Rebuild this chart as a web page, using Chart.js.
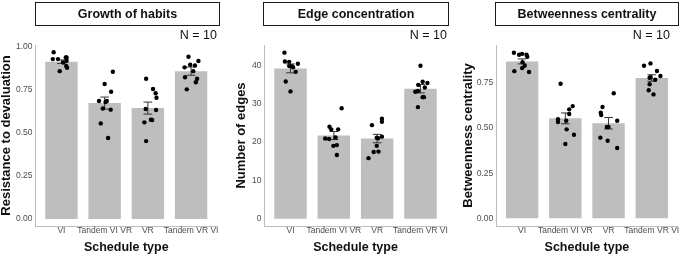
<!DOCTYPE html>
<html>
<head>
<meta charset="utf-8">
<script src="https://cdn.jsdelivr.net/npm/chart.js@4.4.1/dist/chart.umd.min.js"></script>
<style>
  html, body { margin: 0; padding: 0; background: #fff; }
  body { width: 682px; height: 257px; position: relative; overflow: hidden; font-family: "Liberation Sans", Arial, sans-serif; }
  .panel { position: absolute; top: 0; height: 257px; }
  .strip { position: absolute; top: 2px; height: 24px; box-sizing: border-box; border: 1px solid #1a1a1a;
           text-align: center; line-height: 22px; font-weight: bold; font-size: 12.5px; color: #111; }
  .n-label { position: absolute; top: 27px; font-size: 12.5px; color: #111; text-align: right; line-height: 16px; }
</style>
</head>
<body>

<script>
// Data

var schedules = ['VI', 'Tandem VI VR', 'VR', 'Tandem VR VI'];

// Growth of habits: resistance to devaluation
var habitMeans = [0.915, 0.674, 0.645, 0.860];
var habitSem = [0.010, 0.035, 0.035, 0.024];
var habitPoints = [
  [0.97, 0.93, 0.94, 0.92, 0.93, 0.91, 0.94, 0.89, 0.88, 0.86],
  [0.856, 0.785, 0.74, 0.686, 0.686, 0.643, 0.636, 0.556, 0.471, 0.68],
  [0.816, 0.756, 0.731, 0.705, 0.64, 0.634, 0.577, 0.576, 0.562, 0.453],
  [0.944, 0.919, 0.897, 0.893, 0.882, 0.86, 0.824, 0.816, 0.795, 0.754]
];
var habitJitter = [
  [-0.18, -0.20, 0.10, 0.12, -0.08, 0.04, 0.12, 0.11, 0.13, -0.04],
  [0.19, 0.00, 0.15, -0.13, 0.05, -0.04, 0.14, -0.09, 0.08, 0.02],
  [-0.04, 0.12, 0.18, 0.20, -0.05, 0.19, 0.07, 0.10, -0.08, -0.04],
  [-0.06, 0.17, -0.02, 0.09, -0.15, 0.05, -0.14, 0.14, 0.11, -0.10]
];

// Edge concentration: number of edges
var edgeMeans = [39.2, 21.7, 20.9, 33.9];
var edgeSem = [1.15, 1.05, 1.10, 1.10];
var edgePoints = [
  [43.3, 41.0, 40.9, 40.4, 39.8, 39.8, 38.3, 35.8, 33.2, 39.5],
  [28.8, 24.0, 23.3, 23.3, 20.9, 20.8, 21.2, 19.0, 19.2, 16.6],
  [26.1, 25.3, 24.4, 21.1, 21.0, 21.4, 19.0, 17.4, 15.8, 17.5],
  [39.9, 35.7, 35.4, 34.9, 34.2, 33.3, 31.7, 31.7, 29.1, 33.1]
];
var edgeJitter = [
  [-0.14, -0.13, -0.03, 0.17, -0.03, 0.03, 0.12, -0.11, 0.00, 0.06],
  [0.18, -0.10, -0.06, 0.10, -0.20, -0.11, 0.04, -0.01, 0.07, 0.07],
  [0.11, 0.11, -0.12, -0.01, 0.02, 0.11, -0.01, -0.08, -0.20, 0.03],
  [0.00, 0.05, 0.16, -0.05, 0.10, -0.06, 0.08, 0.05, -0.06, -0.12]
];

// Betweenness centrality
var betweenMeans = [0.870, 0.554, 0.527, 0.778];
var betweenSem = [0.014, 0.030, 0.032, 0.018];
var betweenPoints = [
  [0.918, 0.907, 0.912, 0.907, 0.896, 0.866, 0.846, 0.833, 0.816, 0.811],
  [0.746, 0.622, 0.604, 0.578, 0.549, 0.534, 0.541, 0.493, 0.463, 0.412],
  [0.693, 0.617, 0.585, 0.573, 0.541, 0.506, 0.506, 0.447, 0.430, 0.390],
  [0.846, 0.859, 0.817, 0.789, 0.779, 0.782, 0.743, 0.710, 0.687, 0.768]
];
var betweenJitter = [
  [-0.19, -0.07, 0.00, 0.10, 0.12, 0.01, 0.06, 0.00, -0.18, 0.16],
  [-0.11, 0.17, 0.09, 0.09, -0.17, -0.17, 0.02, 0.03, 0.20, 0.00],
  [0.12, -0.14, -0.18, -0.17, 0.20, -0.04, 0.00, -0.19, -0.02, 0.20],
  [-0.18, -0.03, 0.12, 0.20, -0.05, -0.03, -0.05, -0.07, 0.04, 0.08]
];

var FONT = '"Liberation Sans", Arial, sans-serif';
var BAR_COLOR = '#bebebe';
var AXIS_COLOR = '#bdbdbd';
var TICK_COLOR = '#4d4d4d';

// mean +/- sem whiskers, drawn after the bars and before the dots
var errorBars = {
  id: 'errorBars',
  afterDatasetDraw: function (chart, args, opts) {
    if (args.index !== 0) return;
    var x = chart.scales.x, y = chart.scales.y, ctx = chart.ctx;
    var half = x.getPixelForValue(1.1) - x.getPixelForValue(1);
    ctx.save();
    ctx.strokeStyle = '#333';
    ctx.lineWidth = 1;
    opts.means.forEach(function (m, i) {
      var cx = x.getPixelForValue(i + 1);
      var yt = y.getPixelForValue(m + opts.sems[i]);
      var yb = y.getPixelForValue(m - opts.sems[i]);
      ctx.beginPath();
      ctx.moveTo(cx, yt); ctx.lineTo(cx, yb);
      ctx.moveTo(cx - half, yt); ctx.lineTo(cx + half, yt);
      ctx.moveTo(cx - half, yb); ctx.lineTo(cx + half, yb);
      ctx.stroke();
    });
    ctx.restore();
  }
};

var panels = [
  { title: 'Growth of habits', yTitle: 'Resistance to devaluation', means: habitMeans, sems: habitSem,
    points: habitPoints, jitter: habitJitter, yMin: -0.041, yMax: 1.012, yTicks: [0, 0.25, 0.5, 0.75, 1],
    digits: 2, left: 0, width: 226, padLeft: 0, yWidth: 35.5, padRight: 9,
    strip: [35, 220], nRight: 217 },
  { title: 'Edge concentration', yTitle: 'Number of edges', means: edgeMeans, sems: edgeSem,
    points: edgePoints, jitter: edgeJitter, yMin: -1.9, yMax: 45.3, yTicks: [0, 10, 20, 30, 40],
    digits: 0, left: 226, width: 226, padLeft: 8.8, yWidth: 29.7, padRight: 5.5,
    strip: [263, 449], nRight: 447 },
  { title: 'Betweenness centrality', yTitle: 'Betweenness centrality', means: betweenMeans, sems: betweenSem,
    points: betweenPoints, jitter: betweenJitter, yMin: -0.043, yMax: 0.961, yTicks: [0, 0.25, 0.5, 0.75],
    digits: 2, left: 452, width: 230, padLeft: 9.5, yWidth: 34.7, padRight: 4.3,
    strip: [495, 679], nRight: 670 }
];

panels.forEach(function (p) {
  var wrap = document.createElement('div');
  wrap.className = 'panel';
  wrap.style.left = p.left + 'px';
  wrap.style.width = p.width + 'px';
  var canvas = document.createElement('canvas');
  canvas.width = p.width;
  canvas.height = 257;
  wrap.appendChild(canvas);
  document.body.appendChild(wrap);

  var strip = document.createElement('div');
  strip.className = 'strip';
  strip.style.left = p.strip[0] + 'px';
  strip.style.width = (p.strip[1] - p.strip[0]) + 'px';
  strip.textContent = p.title;
  document.body.appendChild(strip);

  var n = document.createElement('div');
  n.className = 'n-label';
  n.style.right = (682 - p.nRight) + 'px';
  n.textContent = 'N = 10';
  document.body.appendChild(n);

  var dots = [];
  p.points.forEach(function (group, i) {
    group.forEach(function (v, j) {
      dots.push({ x: i + 1 + p.jitter[i][j], y: v });
    });
  });

  new Chart(canvas.getContext('2d'), {
    type: 'bar',
    data: {
      datasets: [
        {
          type: 'bar',
          order: 1,
          data: p.means.map(function (m, i) { return { x: i + 1, y: m }; }),
          backgroundColor: BAR_COLOR,
          borderWidth: 0,
          barPercentage: 0.75,
          categoryPercentage: 1
        },
        {
          type: 'scatter',
          order: 0,
          data: dots,
          backgroundColor: '#000',
          borderWidth: 0,
          pointRadius: 2.2
        }
      ]
    },
    plugins: [errorBars],
    options: {
      responsive: false,
      animation: false,
      layout: { padding: { top: 45, left: p.padLeft, right: p.padRight, bottom: 0 } },
      plugins: {
        legend: { display: false },
        tooltip: { enabled: false },
        errorBars: { means: p.means, sems: p.sems }
      },
      scales: {
        x: {
          type: 'linear',
          offset: false,
          min: 0.4,
          max: 4.6,
          afterBuildTicks: function (s) { s.ticks = [1, 2, 3, 4].map(function (v) { return { value: v }; }); },
          afterFit: function (s) { s.height = 31; },
          grid: { display: false, drawTicks: false, offset: false },
          border: { display: true, color: AXIS_COLOR, width: 1 },
          ticks: {
            autoSkip: false, maxRotation: 0, padding: 0, color: TICK_COLOR,
            font: { size: 8.5, family: FONT },
            callback: function (v) { return schedules[v - 1]; }
          },
          title: {
            display: true, text: 'Schedule type', color: '#111',
            font: { size: 12.5, weight: 'bold', family: FONT },
            padding: { top: 0, bottom: 1.5 }
          }
        },
        y: {
          min: p.yMin,
          max: p.yMax,
          afterBuildTicks: function (s) { s.ticks = p.yTicks.map(function (v) { return { value: v }; }); },
          afterFit: function (s) { s.width = p.yWidth; },
          grid: { display: false, drawTicks: false },
          border: { display: true, color: AXIS_COLOR, width: 1 },
          ticks: {
            padding: 3, color: TICK_COLOR,
            font: { size: 8.5, family: FONT },
            callback: function (v) { return v.toFixed(p.digits); }
          },
          title: {
            display: true, text: p.yTitle, color: '#111',
            font: { size: 13, weight: 'bold', family: FONT, lineHeight: 1 },
            padding: 0
          }
        }
      }
    }
  });
});
</script>
</body>
</html>
